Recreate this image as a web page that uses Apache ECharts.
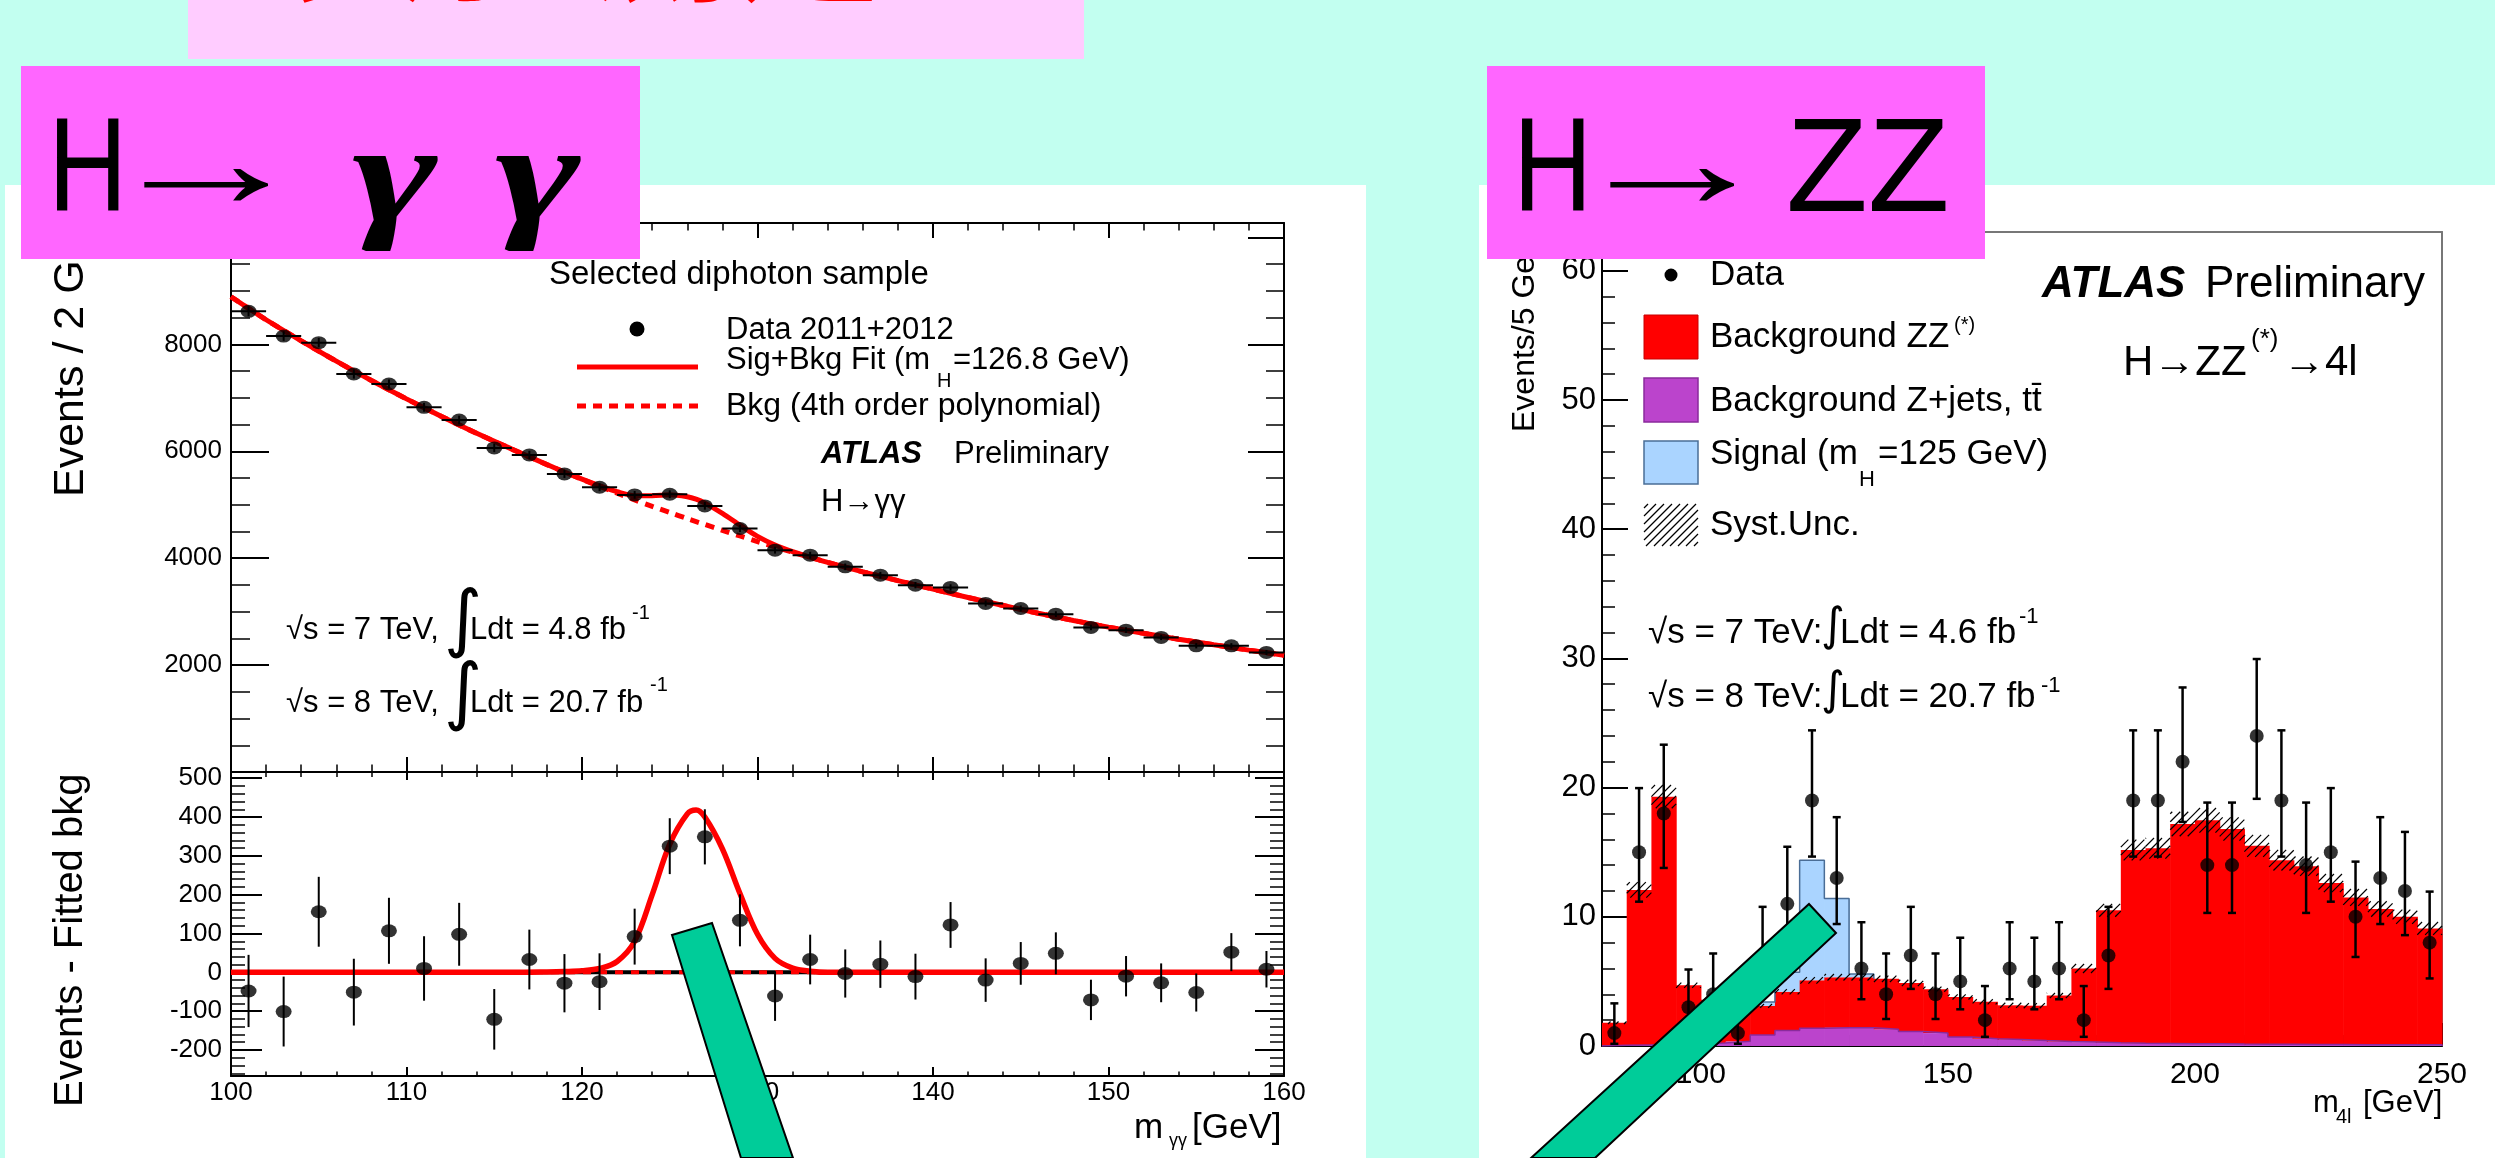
<!DOCTYPE html>
<html>
<head>
<meta charset="utf-8">
<script src="https://cdn.jsdelivr.net/npm/echarts@6/dist/echarts.min.js"></script>
<style>
  html, body { margin: 0; padding: 0; background: #c2fff0; }
  #chart { width: 2495px; height: 1158px; }
</style>
</head>
<body>
<div id="chart"></div>
<script>
const FONT = '"Liberation Sans", Arial, Helvetica, sans-serif';

// ---- H -> gamma gamma, 2 GeV bins ----
const ggMass = [101,103,105,107,109,111,113,115,117,119,121,123,125,127,129,131,133,135,137,139,141,143,145,147,149,151,153,155,157,159];
const ggEvents = [8617,8155,8031,7445,7258,6822,6585,6062,5931,5576,5327,5184,5196,4978,4555,4150,4056,3838,3682,3495,3452,3153,3059,2953,2704,2654,2517,2361,2361,2237];
const ggErr = [93,90,90,86,85,83,81,78,77,75,73,72,72,71,67,64,64,62,61,59,59,56,55,54,52,52,50,49,49,47];
const ggResid = [-48,-101,156,-51,107,10,98,-121,33,-28,-24,92,325,349,134,-61,33,-3,21,-11,122,-20,23,49,-71,-10,-27,-52,52,8];
const ggHalfBin = 1;

// fitted curves (background polynomial, signal peak)
const fitMass = [100,102,104,106,108,110,112,114,116,118,119,120,121,122,123,124,125,126,126.5,127,128,129,130,131,132,133,134,136,138,140,142,144,146,148,150,152,154,156,158,160];
const bkgFit = [8890,8460,8065,7685,7325,6980,6650,6335,6040,5750,5610,5475,5345,5215,5090,4970,4855,4740,4685,4630,4520,4415,4310,4210,4110,4015,3920,3745,3580,3420,3265,3115,2970,2835,2710,2595,2485,2380,2280,2185];
const sigFit = [0,0,0,0,0,0,0,0,0,1,2,4,10,28,80,200,330,408,418,400,318,203,98,36,11,3,0,0,0,0,0,0,0,0,0,0,0,0,0,0];

// ---- H -> ZZ(*) -> 4l, 5 GeV bins ----
const zzBinLo = [80,85,90,95,100,105,110,115,120,125,130,135,140,145,150,155,160,165,170,175,180,185,190,195,200,205,210,215,220,225,230,235,240,245];
const zzBinW = 5;
const zzZZ = [1.75,12.0,19.2,4.55,3.35,2.65,2.25,3.0,3.7,3.9,3.9,3.9,3.75,3.4,3.1,2.85,2.65,2.7,3.55,5.7,10.25,14.95,15.1,17.0,17.3,16.65,15.35,14.25,13.8,12.5,11.4,10.5,9.9,9.0];
const zzZjets = [0.05,0.08,0.1,0.15,0.23,0.36,0.85,1.2,1.38,1.42,1.42,1.3,1.13,1.0,0.7,0.57,0.5,0.42,0.35,0.3,0.25,0.22,0.2,0.18,0.17,0.15,0.14,0.13,0.12,0.11,0.1,0.1,0.1,0.1];
const zzSignal = [0,0,0,0,0,0,0.3,1.5,9.3,6.1,0.25,0,0,0,0,0,0,0,0,0,0,0,0,0,0,0,0,0,0,0,0,0,0,0];
const zzSyst = [0.1,0.6,0.9,0.2,0.15,0.15,0.15,0.2,0.25,0.25,0.25,0.25,0.25,0.2,0.2,0.2,0.2,0.2,0.2,0.35,0.5,0.8,0.8,0.95,0.95,0.9,0.85,0.8,0.75,0.7,0.65,0.6,0.55,0.5];
const zzData = [1,15,18,3,4,1,7,11,19,13,6,4,7,4,5,2,6,5,6,2,7,19,19,22,14,14,24,19,14,15,10,13,12,8];
const zzErrLo = [0.83,3.83,4.22,1.63,1.91,0.83,2.58,3.27,4.34,3.56,2.38,1.91,2.58,1.91,2.16,1.29,2.38,2.16,2.38,1.29,2.58,4.34,4.34,4.66,3.70,3.70,4.87,4.34,3.70,3.83,3.11,3.56,3.42,2.77];
const zzErrHi = [2.30,4.96,5.32,2.92,3.16,2.30,3.77,4.42,5.43,4.71,3.58,3.16,3.77,3.16,3.38,2.64,3.58,3.38,3.58,2.64,3.77,5.43,5.43,5.75,4.84,4.84,5.95,5.43,4.84,4.96,4.27,4.71,4.57,3.95];

const zzBkg = zzZZ.map((v, i) => v + zzZjets[i]);
const DOT = 'path://M0 5A5 5 0 1 0 10 5A5 5 0 1 0 0 5Z';

// axis builder: ROOT-like frame with inward ticks
function ax(gridIndex, position, min, max, step, minorSplit, tick, minor, label, color) {
  const c = color || '#000';
  return {
    type: 'value', gridIndex, position, min, max,
    minInterval: step, maxInterval: step,
    axisLine: { show: true, onZero: false, lineStyle: { color: c, width: 2 } },
    axisTick: { show: tick > 0, inside: true, length: tick, lineStyle: { color: c, width: 2 } },
    minorTick: { show: minor > 0, splitNumber: minorSplit, length: minor, lineStyle: { color: c, width: 1.5 } },
    splitLine: { show: false },
    minorSplitLine: { show: false },
    axisLabel: label ? Object.assign({ show: true, color: '#000', fontFamily: FONT }, label) : { show: false }
  };
}

function stepPts(tops, i0, i1, startBase, endBase) {
  const pts = [[zzBinLo[i0], startBase]];
  for (let i = i0; i <= i1; i++) {
    pts.push([zzBinLo[i], tops[i]], [zzBinLo[i] + zzBinW, tops[i]]);
  }
  pts.push([zzBinLo[i1] + zzBinW, endBase]);
  return pts;
}

function hatch(x0, y0, x1, y1, gap) {
  const out = [];
  for (let c = Math.ceil((x0 + y0) / gap) * gap; c <= x1 + y1; c += gap) {
    const xa = Math.max(x0, c - y1), xb = Math.min(x1, c - y0);
    if (xb > xa) out.push({ type: 'line', shape: { x1: xa, y1: c - xa, x2: xb, y2: c - xb }, style: { stroke: '#000', lineWidth: 1.2 } });
  }
  return out;
}

function T(x, y, text, size, o) {
  o = o || {};
  return {
    type: 'text', x, y, z: o.z || 50, rotation: o.rot || 0, scaleX: o.sx || 1,
    style: Object.assign({ text, fontSize: size, fontFamily: FONT, fill: '#000', align: 'left', verticalAlign: 'middle' }, o.style)
  };
}
const BI = { fontWeight: 'bold', fontStyle: 'italic' };
const GAMMA = { fontFamily: '"Liberation Serif", serif', fontStyle: 'italic', fontWeight: 'bold' };
const INTEG = { fontFamily: '"DejaVu Sans", sans-serif' };

const lineSt = { stroke: '#000', lineWidth: 2 };
function seg(a, b, st) { return { type: 'line', shape: { x1: a[0], y1: a[1], x2: b[0], y2: b[1] }, style: st || lineSt }; }

const chart = echarts.init(document.getElementById('chart'));

const option = {
  backgroundColor: '#c2fff0',
  animation: false,
  grid: [
    { left: 231, top: 223, width: 1053, height: 549 },
    { left: 231, top: 772, width: 1053, height: 304 },
    { left: 1602, top: 232, width: 840, height: 814 }
  ],
  xAxis: [
    ax(0, 'bottom', 100, 160, 10, 5, 15, 7.5, null),
    ax(0, 'top', 100, 160, 10, 5, 15, 7.5, null),
    ax(1, 'bottom', 100, 160, 10, 5, 9, 4.5, { fontSize: 26, margin: 4, formatter: v => (v % 10 === 0 ? String(v) : '') }),
    ax(1, 'top', 100, 160, 10, 5, 8, 5, null),
    ax(2, 'bottom', 80, 250, 50, 5, 23, 11, { fontSize: 30, margin: 14, formatter: v => (v % 50 === 0 ? String(v) : '') }),
    ax(2, 'top', 80, 250, 50, 5, 0, 0, null, '#777')
  ],
  yAxis: [
    ax(0, 'left', 0, 10270, 2000, 4, 38, 19, { fontSize: 26, margin: 9, formatter: v => (v > 0 && v % 2000 === 0 ? String(v) : '') }),
    ax(0, 'right', 0, 10270, 2000, 4, 36, 18, null),
    ax(1, 'left', -267, 516, 100, 5, 31, 14, { fontSize: 26, margin: 9, formatter: v => (Number.isInteger(v) && v % 100 === 0 ? String(v) : '') }),
    ax(1, 'right', -267, 516, 100, 5, 29, 14, null),
    ax(2, 'left', 0, 63, 10, 5, 26, 13, { fontSize: 31, margin: 6, formatter: v => (v % 10 === 0 ? String(v) : '') }),
    ax(2, 'right', 0, 63, 10, 5, 0, 0, null, '#777')
  ],
  series: [
    // --- gamma gamma, upper panel ---
    { type: 'line', xAxisIndex: 0, yAxisIndex: 0, z: 2, showSymbol: false, smooth: 0.3,
      data: fitMass.map((m, i) => [m, bkgFit[i]]),
      lineStyle: { color: '#ff0000', width: 5, type: [9, 7], cap: 'butt' } },
    { type: 'line', xAxisIndex: 0, yAxisIndex: 0, z: 3, showSymbol: false, smooth: 0.3,
      data: fitMass.map((m, i) => [m, bkgFit[i] + sigFit[i]]),
      lineStyle: { color: '#ff0000', width: 5 } },
    { type: 'custom', xAxisIndex: 0, yAxisIndex: 0, z: 4, encode: { x: 0, y: 1 },
      data: ggMass.map((m, i) => [m, ggEvents[i], ggErr[i]]),
      renderItem(p, api) {
        const m = api.value(0), v = api.value(1), e = api.value(2);
        return { type: 'group', children: [
          seg(api.coord([m - ggHalfBin, v]), api.coord([m + ggHalfBin, v])),
          seg(api.coord([m, v - e]), api.coord([m, v + e]))
        ] };
      } },
    { type: 'scatter', xAxisIndex: 0, yAxisIndex: 0, z: 5, symbol: DOT, symbolSize: [16, 13],
      itemStyle: { color: '#000' }, data: ggMass.map((m, i) => [m, ggEvents[i]]) },

    // --- gamma gamma, residual panel ---
    { type: 'line', xAxisIndex: 2, yAxisIndex: 2, z: 2, showSymbol: false,
      data: [[fitMass[0], 0], [fitMass[fitMass.length - 1], 0]],
      lineStyle: { color: '#000', width: 4 } },
    { type: 'line', xAxisIndex: 2, yAxisIndex: 2, z: 2, showSymbol: false,
      data: [[fitMass[0], 0], [fitMass[fitMass.length - 1], 0]],
      lineStyle: { color: '#ff0000', width: 4, type: [8, 8], cap: 'butt' } },
    { type: 'line', xAxisIndex: 2, yAxisIndex: 2, z: 3, showSymbol: false, smooth: 0.35,
      data: fitMass.map((m, i) => [m, sigFit[i]]),
      lineStyle: { color: '#ff0000', width: 5.5 } },
    { type: 'custom', xAxisIndex: 2, yAxisIndex: 2, z: 4, encode: { x: 0, y: 1 },
      data: ggMass.map((m, i) => [m, ggResid[i], ggErr[i]]),
      renderItem(p, api) {
        const m = api.value(0), v = api.value(1), e = api.value(2);
        return seg(api.coord([m, v - e]), api.coord([m, v + e]));
      } },
    { type: 'scatter', xAxisIndex: 2, yAxisIndex: 2, z: 5, symbol: DOT, symbolSize: [16, 13],
      itemStyle: { color: '#000' }, data: ggMass.map((m, i) => [m, ggResid[i]]) },

    // --- ZZ stacked histogram ---
    { type: 'custom', xAxisIndex: 4, yAxisIndex: 4, z: 1, encode: { x: 0, y: 1 },
      data: zzBinLo.map((lo, i) => [lo, i]),
      renderItem(p, api) {
        const lo = api.value(0), i = api.value(1), hi = lo + zzBinW;
        const rect = (y0, y1, fill) => {
          const a = api.coord([lo, y1]), b = api.coord([hi, y0]);
          return { type: 'rect', shape: { x: a[0], y: a[1], width: b[0] - a[0] + 0.6, height: b[1] - a[1] }, style: { fill } };
        };
        const kids = [rect(0, zzZjets[i], '#bb44cc'), rect(zzZjets[i], zzBkg[i], '#ff0000')];
        if (zzSignal[i] > 0) kids.push(rect(zzBkg[i], zzBkg[i] + zzSignal[i], '#aad4ff'));
        return { type: 'group', children: kids };
      } },
    { type: 'line', xAxisIndex: 4, yAxisIndex: 4, z: 2, showSymbol: false,
      data: stepPts(zzZjets, 0, zzBinLo.length - 1, 0, 0),
      lineStyle: { color: '#8a2a9c', width: 1.5 } },
    { type: 'line', xAxisIndex: 4, yAxisIndex: 4, z: 2, showSymbol: false,
      data: stepPts(zzBkg.map((b, i) => b + zzSignal[i]), 6, 10, zzBkg[6], zzBkg[11]),
      lineStyle: { color: '#4a6d96', width: 1.5 } },
    { type: 'custom', xAxisIndex: 4, yAxisIndex: 4, z: 3, encode: { x: 0, y: 1 },
      data: zzBinLo.map((lo, i) => [lo, i]),
      renderItem(p, api) {
        const lo = api.value(0), i = api.value(1);
        const a = api.coord([lo, zzBkg[i] + zzSyst[i]]), b = api.coord([lo + zzBinW, zzBkg[i] - zzSyst[i]]);
        return { type: 'group', children: hatch(a[0], a[1], b[0], b[1], 8) };
      } },
    { type: 'custom', xAxisIndex: 4, yAxisIndex: 4, z: 4, encode: { x: 0, y: 1 },
      data: zzBinLo.map((lo, i) => [lo + zzBinW / 2, zzData[i], zzErrLo[i], zzErrHi[i]]),
      renderItem(p, api) {
        const m = api.value(0), v = api.value(1);
        const lo = api.coord([m, v - api.value(2)]), hi = api.coord([m, v + api.value(3)]);
        const st = { stroke: '#000', lineWidth: 2.5 };
        return { type: 'group', children: [
          seg(lo, hi, st),
          seg([lo[0] - 4, lo[1]], [lo[0] + 4, lo[1]], st),
          seg([hi[0] - 4, hi[1]], [hi[0] + 4, hi[1]], st)
        ] };
      } },
    { type: 'scatter', xAxisIndex: 4, yAxisIndex: 4, z: 5, symbol: 'circle', symbolSize: 14,
      itemStyle: { color: '#000' }, data: zzBinLo.map((lo, i) => [lo + zzBinW / 2, zzData[i]]) }
  ],
  graphic: { elements: [
    // slide backdrop panels
    { type: 'rect', z: -10, shape: { x: 5, y: 185, width: 1361, height: 973 }, style: { fill: '#fff' } },
    { type: 'rect', z: -10, shape: { x: 1479, y: 185, width: 1016, height: 973 }, style: { fill: '#fff' } },
    { type: 'rect', z: 90, shape: { x: 188, y: 0, width: 896, height: 59 }, style: { fill: '#ffccff' } },
    T(283, -68, '实验测定', 150, { z: 92, style: { fill: '#ff0000', fontWeight: 'bold', fontFamily: '"Noto Sans CJK SC", sans-serif' } }),

    // gamma gamma annotations
    T(71, 497, 'Events / 2 GeV', 43, { rot: Math.PI / 2 }),
    T(71, 1107, 'Events - Fitted bkg', 40, { rot: Math.PI / 2 }),
    T(549, 275, 'Selected diphoton sample', 33),
    { type: 'circle', z: 50, shape: { cx: 637, cy: 329, r: 7.5 }, style: { fill: '#000' } },
    T(726, 330, 'Data 2011+2012', 31),
    { type: 'line', z: 50, shape: { x1: 577, y1: 367, x2: 698, y2: 367 }, style: { stroke: '#ff0000', lineWidth: 5 } },
    T(726, 360, 'Sig+Bkg Fit (m', 31),
    T(937, 381, 'H', 20),
    T(953, 360, '=126.8 GeV)', 31),
    { type: 'line', z: 50, shape: { x1: 577, y1: 406, x2: 698, y2: 406 }, style: { stroke: '#ff0000', lineWidth: 5, lineDash: [9, 7] } },
    T(726, 406, 'Bkg (4th order polynomial)', 32),
    T(821, 454, 'ATLAS', 31, { style: BI }),
    T(954, 454, 'Preliminary', 31),
    T(821, 502, 'H→γγ', 31),
    T(286, 630, '√s = 7 TeV,', 31),
    T(444, 624, '∫', 74, { style: INTEG }),
    T(470, 630, 'Ldt = 4.8 fb', 31),
    T(632, 613, '-1', 20),
    T(286, 703, '√s = 8 TeV,', 31),
    T(444, 697, '∫', 74, { style: INTEG }),
    T(470, 703, 'Ldt = 20.7 fb', 31),
    T(650, 685, '-1', 20),
    T(1134, 1128, 'm', 35),
    T(1169, 1141, 'γγ', 18),
    T(1192, 1128, '[GeV]', 35),

    // ZZ annotations
    T(1525, 432, 'Events/5 GeV', 32, { rot: Math.PI / 2 }),
    { type: 'circle', z: 50, shape: { cx: 1671, cy: 275, r: 6.5 }, style: { fill: '#000' } },
    T(1710, 275, 'Data', 35),
    { type: 'rect', z: 50, shape: { x: 1644, y: 315, width: 54, height: 44 }, style: { fill: '#ff0000', stroke: '#c80000', lineWidth: 1 } },
    T(1710, 337, 'Background ZZ', 35),
    T(1954, 325, '(*)', 20),
    { type: 'rect', z: 50, shape: { x: 1644, y: 378, width: 54, height: 44 }, style: { fill: '#bb44cc', stroke: '#8a2a9c', lineWidth: 1.5 } },
    T(1710, 401, 'Background Z+jets, tt\u0304', 35),
    { type: 'rect', z: 50, shape: { x: 1644, y: 441, width: 54, height: 43 }, style: { fill: '#aad4ff', stroke: '#4a6d96', lineWidth: 1.5 } },
    T(1710, 454, 'Signal (m', 35),
    T(1859, 480, 'H', 22),
    T(1878, 454, '=125 GeV)', 35),
    { type: 'group', z: 50, children: hatch(1644, 504, 1698, 546, 8) },
    T(1710, 525, 'Syst.Unc.', 35),
    T(1648, 633, '√s = 7 TeV:', 35),
    T(1821, 628, '∫', 46, { style: INTEG }),
    T(1840, 633, 'Ldt = 4.6 fb', 35),
    T(2019, 617, '-1', 22),
    T(1648, 697, '√s = 8 TeV:', 35),
    T(1821, 692, '∫', 46, { style: INTEG }),
    T(1840, 697, 'Ldt = 20.7 fb', 35),
    T(2041, 686, '-1', 22),
    T(2042, 285, 'ATLAS', 44, { style: BI }),
    T(2205, 285, 'Preliminary', 44),
    T(2123, 363, 'H→ZZ', 42),
    T(2251, 340, '(*)', 26),
    T(2283, 363, '→4l', 42),
    T(2313, 1103, 'm', 31),
    T(2336, 1117, '4l', 20),
    T(2363, 1103, '[GeV]', 31),

    // magenta title boxes
    { type: 'rect', z: 90, shape: { x: 21, y: 66, width: 619, height: 193 }, style: { fill: '#ff66ff' } },
    T(48, 174, 'H', 134, { z: 92, sx: 0.82 }),
    T(102, 170, '→', 134, { z: 92, sx: 1.56 }),
    T(352, 184, 'γ', 142, { z: 92, sx: 1.45, style: GAMMA }),
    T(495, 184, 'γ', 142, { z: 92, sx: 1.45, style: GAMMA }),
    { type: 'rect', z: 90, shape: { x: 1487, y: 66, width: 498, height: 193 }, style: { fill: '#ff66ff' } },
    T(1513, 174, 'H', 134, { z: 92, sx: 0.82 }),
    T(1568, 170, '→', 134, { z: 92, sx: 1.56 }),
    T(1786, 174, 'ZZ', 134, { z: 92 }),

    // green pointer bars
    { type: 'polygon', z: 95, shape: { points: [[672, 935], [712, 923], [793, 1158], [741, 1158]] }, style: { fill: '#00cc99', stroke: '#000', lineWidth: 2 } },
    { type: 'polygon', z: 95, shape: { points: [[1809, 904], [1836, 933], [1595, 1158], [1531, 1158]] }, style: { fill: '#00cc99', stroke: '#000', lineWidth: 2 } }
  ] }
};

chart.setOption(option);
window.addEventListener('resize', () => chart.resize());
</script>
</body>
</html>
